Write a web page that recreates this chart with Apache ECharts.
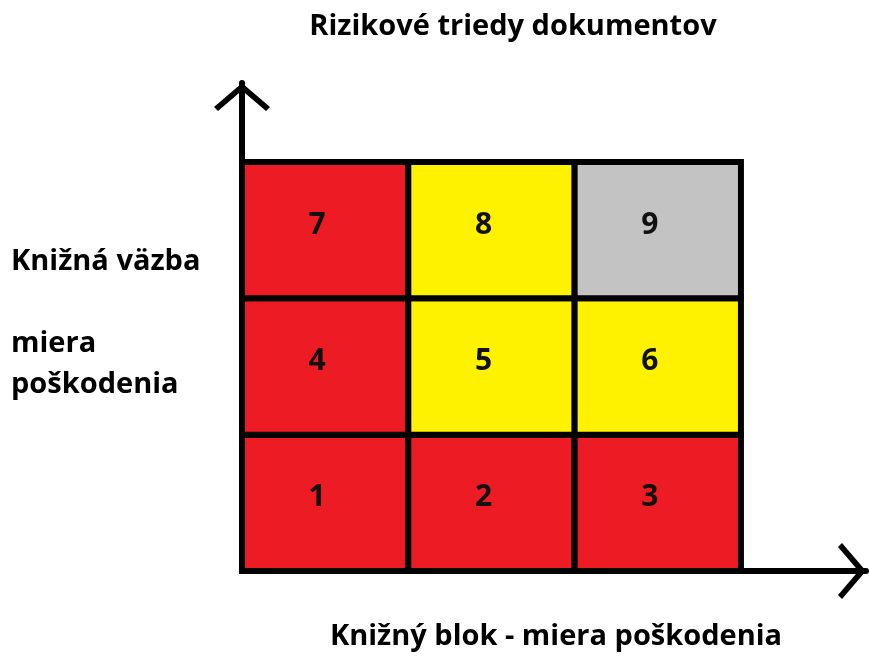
<!DOCTYPE html>
<html>
<head>
<meta charset="utf-8">
<script src="https://cdn.jsdelivr.net/npm/echarts@6/dist/echarts.min.js"></script>
<style>
  html, body { margin: 0; padding: 0; background: #fff; }
  #chart { width: 869px; height: 657px; }
</style>
</head>
<body>
<div id="chart"></div>
<script>
var chartDom = document.getElementById('chart');
var myChart = echarts.init(chartDom);
var option;

// risk classes of the 3x3 matrix (column = book block damage, row = binding damage)
var colIndex = [0, 1, 2, 0, 1, 2, 0, 1, 2];
var rowIndex = [0, 0, 0, 1, 1, 1, 2, 2, 2];
var riskClass = [1, 2, 3, 4, 5, 6, 7, 8, 9];
var riskLevel = ['high', 'high', 'high', 'high', 'mid', 'mid', 'high', 'mid', 'low'];

var titleText = 'Rizikové triedy dokumentov';
var xName = 'Knižný blok - miera poškodenia';
var yName = 'Knižná väzba\n\nmiera\npoškodenia';

var levelColor = { high: '#ED1C24', mid: '#FFF200', low: '#C3C3C3' };
var FONT = '"Open Sans"';

var data = [];
for (var i = 0; i < riskClass.length; i++) {
  data.push([colIndex[i], rowIndex[i], riskClass[i], riskLevel[i]]);
}

// chevron arrow head, pointing up
var chevron = 'path://M28 0 L56 24 L52 28 L28 7.5 L4 28 L0 24 Z';

function renderCell(params, api) {
  var x = api.value(0), y = api.value(1);
  var p0 = api.coord([x, y]);
  var p1 = api.coord([x + 1, y + 1]);
  var lvl = data[params.dataIndex][3];
  return {
    type: 'group',
    children: [
      {
        type: 'rect',
        shape: { x: p0[0], y: p1[1], width: p1[0] - p0[0], height: p0[1] - p1[1] },
        style: { fill: levelColor[lvl], stroke: '#000', lineWidth: 6 }
      },
      {
        type: 'text',
        x: (p0[0] + p1[0]) / 2 - 8,
        y: (p0[1] + p1[1]) / 2 - 5,
        style: {
          text: String(api.value(2)),
          fill: '#111',
          font: 'bold 30px ' + FONT,
          align: 'center',
          verticalAlign: 'middle'
        }
      }
    ]
  };
}

option = {
  animation: false,
  backgroundColor: '#fff',
  grid: { left: 242, right: 3, top: 83, bottom: 86, containLabel: false },
  graphic: [
    {
      type: 'text', x: 513, y: 27,
      style: { text: titleText, fill: '#000', font: 'bold 29px ' + FONT, align: 'center', verticalAlign: 'middle' }
    },
    {
      type: 'text', x: 11, y: 323,
      style: { text: yName, fill: '#000', font: 'bold 29px ' + FONT, lineHeight: 41, align: 'left', verticalAlign: 'middle' }
    },
    {
      type: 'text', x: 556, y: 637,
      style: { text: xName, fill: '#000', font: 'bold 29px ' + FONT, align: 'center', verticalAlign: 'middle' }
    }
  ],
  xAxis: {
    type: 'value', min: 0, max: 3.752,
    axisLine: {
      show: true, onZero: false,
      lineStyle: { color: '#000', width: 6 },
      symbol: ['none', chevron], symbolSize: [56, 28], symbolOffset: [0, -14]
    },
    axisTick: { show: false }, axisLabel: { show: false }, splitLine: { show: false }
  },
  yAxis: {
    type: 'value', min: 0, max: 3.579,
    axisLine: {
      show: true, onZero: false,
      lineStyle: { color: '#000', width: 6 },
      symbol: ['none', chevron], symbolSize: [56, 28], symbolOffset: [0, -14]
    },
    axisTick: { show: false }, axisLabel: { show: false }, splitLine: { show: false }
  },
  series: [
    {
      type: 'custom',
      renderItem: renderCell,
      data: data,
      encode: { x: 0, y: 1 },
      z: 1
    }
  ]
};

option && myChart.setOption(option);
</script>
</body>
</html>
